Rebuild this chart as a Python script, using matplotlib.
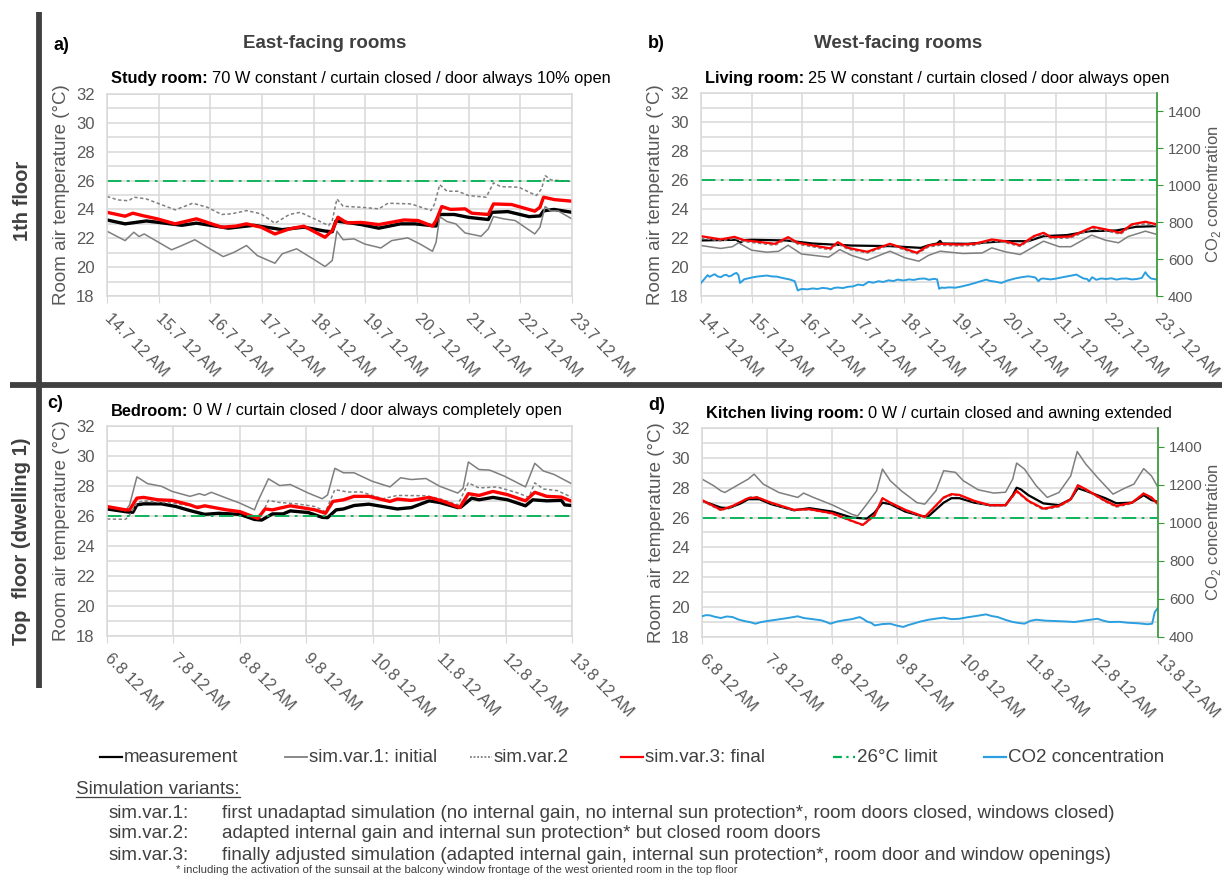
import numpy as np
import matplotlib
matplotlib.use("Agg")
import matplotlib.pyplot as plt
from matplotlib.lines import Line2D

plt.rcParams['font.family'] = ['Liberation Sans', 'DejaVu Sans']
plt.rcParams['mathtext.fontset'] = 'custom'
plt.rcParams['mathtext.rm'] = 'Liberation Sans'

# ---- time axes (days since first tick) ----
july_days = ['14.7', '15.7', '16.7', '17.7', '18.7', '19.7', '20.7', '21.7', '22.7', '23.7']
aug_days = ['6.8', '7.8', '8.8', '9.8', '10.8', '11.8', '12.8', '13.8']

# ---- a) study room, 1st floor, east ----
a_meas = [(0, 23.27), (0.35, 23.0), (0.76, 23.2), (1.0, 23.1), (1.45, 22.9), (1.73, 23.05),
          (2.0, 22.9), (2.35, 22.7), (2.84, 22.9), (3.39, 22.6), (3.81, 22.77), (4.22, 22.5),
          (4.36, 22.45), (4.43, 23.2), (4.64, 23.1), (4.92, 22.95), (5.26, 22.7), (5.68, 23.0),
          (5.96, 23.0), (6.37, 22.85), (6.44, 23.65), (6.72, 23.65), (7.0, 23.45), (7.38, 23.3),
          (7.45, 23.8), (7.76, 23.85), (8.17, 23.5), (8.38, 23.55), (8.45, 23.9), (8.65, 24.0),
          (9.0, 23.8)]
a_var1 = [(0, 22.49), (0.35, 21.84), (0.52, 22.42), (0.62, 22.12), (0.72, 22.3), (1.25, 21.2),
          (1.45, 21.5), (1.7, 21.9), (1.94, 21.38), (2.25, 20.73), (2.46, 21.03), (2.7, 21.5),
          (2.91, 20.8), (3.25, 20.27), (3.39, 20.92), (3.67, 21.27), (4.02, 20.5), (4.22, 20.04),
          (4.36, 20.46), (4.45, 22.49), (4.57, 21.9), (4.78, 21.96), (4.99, 21.6), (5.3, 21.33),
          (5.51, 21.84), (5.82, 22.03), (6.06, 21.6), (6.3, 21.1), (6.37, 21.73), (6.44, 23.5),
          (6.58, 23.16), (6.75, 23.0), (6.93, 22.37), (7.24, 22.14), (7.38, 22.65), (7.48, 23.5),
          (7.69, 23.34), (7.9, 23.23), (8.28, 22.3), (8.38, 22.77), (8.48, 24.2), (8.59, 23.9),
          (8.73, 23.9), (9.0, 23.34)]
a_var2 = [(0, 24.9), (0.21, 24.66), (0.42, 24.6), (0.52, 24.85), (0.76, 24.73), (1.32, 23.97),
          (1.66, 24.43), (1.94, 24.15), (2.22, 23.65), (2.42, 23.7), (2.7, 23.92), (2.98, 23.7),
          (3.25, 23.04), (3.53, 23.65), (3.74, 23.8), (4.02, 23.34), (4.29, 22.88), (4.36, 23.23),
          (4.45, 24.73), (4.57, 24.22), (4.92, 24.15), (5.26, 24.04), (5.44, 24.43), (5.89, 24.38),
          (6.27, 23.92), (6.34, 24.38), (6.44, 25.72), (6.58, 25.26), (6.79, 25.26), (7.0, 24.96),
          (7.34, 24.85), (7.48, 25.84), (7.62, 25.58), (7.97, 25.54), (8.31, 24.96), (8.41, 25.42),
          (8.48, 26.35), (8.59, 26.05), (9.0, 25.93)]
a_var3 = [(0, 23.8), (0.35, 23.53), (0.5, 23.74), (0.69, 23.57), (0.97, 23.35), (1.32, 23.0),
          (1.59, 23.23), (1.73, 23.35), (2.22, 22.77), (2.49, 22.84), (2.7, 23.0), (2.98, 22.77),
          (3.25, 22.3), (3.53, 22.65), (3.81, 22.84), (4.22, 22.07), (4.36, 22.54), (4.47, 23.46),
          (4.64, 23.07), (4.92, 23.1), (5.26, 22.95), (5.75, 23.27), (6.02, 23.23), (6.3, 22.84),
          (6.37, 23.23), (6.48, 24.2), (6.65, 24.0), (6.93, 24.04), (7.06, 23.74), (7.38, 23.65),
          (7.48, 24.38), (7.83, 24.34), (8.28, 23.88), (8.38, 24.15), (8.45, 24.85), (8.66, 24.68),
          (9.0, 24.57)]

# ---- b) living room, 1st floor, west ----
b_meas = [(0, 21.83), (0.7, 21.88), (0.77, 21.67), (0.85, 21.85), (1.0, 21.88), (1.68, 21.83),
          (2.21, 21.62), (2.97, 21.48), (3.73, 21.44), (4.34, 21.32), (4.49, 21.5), (4.66, 21.62),
          (4.72, 21.8), (4.76, 21.62), (5.25, 21.6), (6.0, 21.78), (6.46, 21.78), (6.76, 22.13),
          (7.22, 22.2), (7.67, 22.47), (8.2, 22.52), (8.58, 22.77), (9.0, 22.82)]
b_var1 = [(0, 21.48), (0.39, 21.28), (0.62, 21.4), (0.74, 21.67), (1.0, 21.16), (1.3, 21.02),
          (1.53, 21.08), (1.72, 21.5), (1.98, 20.9), (2.52, 20.68), (2.74, 21.2), (2.97, 20.8),
          (3.28, 20.47), (3.73, 21.09), (4.03, 20.63), (4.3, 20.4), (4.49, 20.8), (4.72, 21.09),
          (5.17, 20.93), (5.55, 20.97), (5.74, 21.32), (6.0, 21.05), (6.3, 20.86), (6.76, 21.78),
          (7.07, 21.4), (7.3, 21.4), (7.71, 22.2), (7.98, 21.85), (8.24, 21.67), (8.43, 22.1),
          (8.77, 22.47), (9.0, 22.24)]
b_var2 = [(0, 22.0), (0.39, 21.8), (0.66, 21.98), (0.85, 21.75), (1.46, 21.5), (1.72, 21.96),
          (1.91, 21.57), (2.55, 21.18), (2.7, 21.6), (2.9, 21.22), (3.28, 20.97), (3.73, 21.5),
          (4.26, 20.9), (4.49, 21.38), (4.72, 21.5), (5.09, 21.45), (5.4, 21.5), (5.74, 21.8),
          (6.0, 21.68), (6.3, 21.42), (6.57, 22.02), (6.76, 22.25), (6.91, 21.96), (7.29, 22.0),
          (7.74, 22.65), (7.98, 22.5), (8.28, 22.26), (8.5, 22.82), (8.77, 22.98), (9.0, 22.84)]
b_var3 = [(0, 22.13), (0.39, 21.9), (0.66, 22.08), (0.85, 21.85), (1.46, 21.6), (1.72, 22.06),
          (1.91, 21.67), (2.55, 21.28), (2.7, 21.71), (2.9, 21.32), (3.28, 21.05), (3.73, 21.6),
          (4.26, 20.98), (4.49, 21.48), (4.72, 21.6), (5.09, 21.55), (5.4, 21.6), (5.74, 21.9),
          (6.0, 21.78), (6.3, 21.5), (6.57, 22.13), (6.76, 22.36), (6.91, 22.06), (7.29, 22.1),
          (7.74, 22.77), (7.98, 22.6), (8.28, 22.36), (8.5, 22.94), (8.77, 23.12), (9.0, 22.94)]
b_co2 = [(0, 471), (0.06, 490), (0.13, 513), (0.17, 504), (0.2, 509), (0.27, 518), (0.33, 506),
         (0.39, 502), (0.45, 512), (0.5, 515), (0.55, 506), (0.6, 510), (0.65, 520), (0.7, 525),
         (0.74, 512), (0.77, 471), (0.81, 480), (0.85, 490), (0.92, 495), (1.0, 500), (1.1, 505),
         (1.2, 508), (1.3, 511), (1.4, 506), (1.5, 505), (1.6, 498), (1.76, 489), (1.85, 480),
         (1.91, 430), (1.96, 436), (2.0, 438), (2.1, 436), (2.2, 441), (2.3, 438), (2.4, 444),
         (2.5, 441), (2.56, 436), (2.63, 444), (2.7, 446), (2.8, 443), (2.9, 450), (3.0, 452),
         (3.1, 462), (3.2, 458), (3.31, 477), (3.4, 472), (3.5, 480), (3.6, 476), (3.7, 485),
         (3.8, 481), (3.88, 489), (4.0, 484), (4.1, 490), (4.2, 487), (4.3, 493), (4.41, 495),
         (4.5, 488), (4.6, 493), (4.66, 490), (4.7, 439), (4.75, 446), (4.8, 444), (4.9, 447),
         (5.02, 445), (5.15, 452), (5.3, 462), (5.45, 474), (5.63, 489), (5.7, 482), (5.8, 478),
         (5.93, 471), (6.05, 484), (6.2, 495), (6.33, 502), (6.46, 507), (6.55, 503), (6.6, 500),
         (6.66, 480), (6.7, 492), (6.75, 495), (6.9, 490), (7.0, 494), (7.07, 498), (7.2, 505),
         (7.3, 510), (7.41, 516), (7.48, 505), (7.55, 495), (7.62, 492), (7.66, 480), (7.72, 502),
         (7.8, 488), (7.9, 495), (8.0, 492), (8.1, 496), (8.2, 489), (8.3, 494), (8.4, 495),
         (8.5, 490), (8.6, 492), (8.7, 498), (8.77, 529), (8.82, 510), (8.88, 495), (9.0, 489)]

# ---- c) bedroom, top floor, east ----
c_meas = [(0, 26.47), (0.34, 26.25), (0.39, 26.25), (0.45, 26.74), (0.55, 26.81), (0.82, 26.81),
          (1.04, 26.63), (1.25, 26.36), (1.47, 26.11), (1.68, 26.18), (2.0, 26.11), (2.22, 25.77),
          (2.33, 25.73), (2.49, 26.14), (2.65, 26.14), (2.76, 26.34), (3.03, 26.23), (3.24, 25.91),
          (3.32, 25.89), (3.45, 26.41), (3.56, 26.47), (3.72, 26.7), (3.94, 26.79), (4.37, 26.47),
          (4.58, 26.56), (4.85, 27.01), (5.01, 26.9), (5.28, 26.56), (5.33, 26.6), (5.49, 27.19),
          (5.6, 27.08), (5.81, 27.24), (6.03, 27.08), (6.3, 26.68), (6.41, 27.08), (6.62, 27.01),
          (6.84, 27.04), (6.89, 26.74), (7.0, 26.7)]
c_var1 = [(0, 26.63), (0.28, 26.36), (0.34, 26.74), (0.45, 28.61), (0.61, 28.16), (0.82, 27.98),
          (0.98, 27.64), (1.25, 27.31), (1.39, 27.49), (1.47, 27.38), (1.57, 27.58), (1.8, 27.19),
          (2.0, 26.86), (2.22, 26.41), (2.27, 26.97), (2.43, 28.48), (2.6, 28.03), (2.76, 28.1),
          (3.03, 27.53), (3.24, 27.15), (3.32, 27.4), (3.43, 29.18), (3.56, 28.88), (3.72, 28.88),
          (3.99, 28.32), (4.26, 27.94), (4.42, 28.55), (4.58, 28.43), (4.8, 28.5), (5.01, 27.98),
          (5.28, 27.53), (5.36, 27.85), (5.44, 29.6), (5.6, 29.1), (5.76, 29.06), (5.98, 28.66),
          (6.3, 27.94), (6.44, 29.51), (6.57, 29.0), (6.73, 28.77), (7.0, 28.14)]
c_var2 = [(0, 25.8), (0.28, 25.78), (0.34, 26.07), (0.45, 26.86), (0.55, 27.01), (0.77, 26.92),
          (0.98, 26.86), (1.25, 26.68), (1.47, 26.63), (1.8, 26.41), (2.0, 26.25), (2.27, 25.84),
          (2.35, 26.29), (2.43, 27.04), (2.6, 26.9), (2.86, 26.81), (3.13, 26.63), (3.29, 26.29),
          (3.43, 27.76), (3.62, 27.6), (3.83, 27.6), (4.15, 27.15), (4.37, 27.37), (4.8, 27.35),
          (5.01, 27.15), (5.28, 26.74), (5.44, 28.21), (5.6, 27.87), (5.87, 27.94), (6.19, 27.53),
          (6.35, 27.24), (6.44, 28.21), (6.57, 27.8), (6.78, 27.69), (7.0, 27.24)]
c_var3 = [(0, 26.63), (0.28, 26.41), (0.34, 26.41), (0.45, 27.19), (0.55, 27.24), (0.77, 27.08),
          (0.98, 27.04), (1.25, 26.74), (1.36, 26.56), (1.47, 26.68), (1.8, 26.41), (2.0, 26.29),
          (2.27, 25.84), (2.38, 26.47), (2.49, 26.41), (2.76, 26.68), (3.13, 26.41), (3.29, 26.18),
          (3.4, 26.97), (3.56, 27.08), (3.72, 27.31), (3.94, 27.31), (4.26, 26.97), (4.37, 27.13),
          (4.58, 27.04), (4.85, 27.24), (5.07, 26.97), (5.31, 26.56), (5.44, 27.49), (5.6, 27.37),
          (5.81, 27.64), (6.03, 27.42), (6.3, 27.01), (6.44, 27.58), (6.62, 27.31), (6.84, 27.26),
          (7.0, 26.97)]

# ---- d) kitchen living room, top floor, west ----
d_meas = [(0, 27.12), (0.29, 26.67), (0.41, 26.63), (0.59, 26.94), (0.71, 27.23), (0.88, 27.23),
          (1.06, 26.9), (1.41, 26.49), (1.65, 26.63), (2.0, 26.4), (2.3, 26.0), (2.53, 25.93),
          (2.65, 26.34), (2.77, 27.0), (2.89, 26.9), (3.12, 26.4), (3.36, 26.11), (3.47, 26.07),
          (3.71, 27.0), (3.83, 27.3), (3.95, 27.3), (4.18, 27.0), (4.42, 26.83), (4.66, 26.83),
          (4.77, 27.5), (4.83, 28.0), (4.89, 27.9), (5.01, 27.5), (5.24, 26.95), (5.48, 26.83),
          (5.66, 27.23), (5.77, 27.97), (5.89, 27.79), (6.19, 27.3), (6.36, 26.96), (6.6, 27.0),
          (6.78, 27.5), (6.9, 27.17), (7.0, 27.05)]
d_var1 = [(0, 28.58), (0.18, 28.13), (0.29, 27.79), (0.35, 27.68), (0.53, 28.13), (0.71, 28.58),
          (0.8, 28.91), (0.94, 28.24), (1.18, 27.68), (1.47, 27.35), (1.56, 27.64), (1.71, 27.35),
          (2.0, 26.85), (2.3, 26.22), (2.39, 26.11), (2.53, 26.9), (2.68, 27.79), (2.77, 29.25),
          (2.89, 28.47), (3.06, 27.79), (3.3, 27.0), (3.42, 26.9), (3.59, 27.79), (3.71, 29.14),
          (3.89, 29.03), (4.01, 28.47), (4.24, 27.86), (4.48, 27.64), (4.66, 27.7), (4.77, 28.58),
          (4.83, 29.65), (4.95, 29.25), (5.13, 28.13), (5.3, 27.35), (5.48, 27.68), (5.66, 28.79),
          (5.76, 30.42), (5.89, 29.59), (6.07, 28.69), (6.31, 27.57), (6.48, 27.95), (6.63, 28.24),
          (6.78, 29.28), (6.9, 28.79), (7.0, 28.02)]
d_var2 = [(0, 27.1), (0.29, 26.47), (0.47, 26.72), (0.71, 27.36), (0.85, 27.4), (1.06, 26.95),
          (1.41, 26.47), (1.65, 26.52), (2.0, 26.24), (2.3, 25.74), (2.47, 25.47), (2.65, 26.1),
          (2.77, 27.25), (2.89, 26.95), (3.12, 26.47), (3.42, 26.0), (3.71, 27.3), (3.83, 27.5),
          (3.95, 27.47), (4.18, 27.06), (4.42, 26.78), (4.66, 26.78), (4.83, 27.72), (5.01, 27.06),
          (5.24, 26.52), (5.48, 26.72), (5.66, 27.16), (5.77, 28.1), (5.89, 27.84), (6.19, 27.06),
          (6.36, 26.7), (6.6, 26.94), (6.78, 27.66), (6.9, 27.3), (7.0, 26.84)]
d_var3 = [(0, 27.17), (0.29, 26.52), (0.47, 26.78), (0.71, 27.3), (0.85, 27.35), (1.06, 27.0),
          (1.41, 26.52), (1.65, 26.56), (2.0, 26.29), (2.3, 25.78), (2.47, 25.51), (2.65, 26.16),
          (2.77, 27.3), (2.89, 27.0), (3.12, 26.52), (3.42, 26.04), (3.71, 27.35), (3.83, 27.57),
          (3.95, 27.52), (4.18, 27.12), (4.42, 26.83), (4.66, 26.83), (4.83, 27.79), (5.01, 27.12),
          (5.24, 26.6), (5.48, 26.78), (5.66, 27.23), (5.77, 28.17), (5.89, 27.9), (6.19, 27.12),
          (6.36, 26.78), (6.6, 27.0), (6.78, 27.61), (6.9, 27.35), (7.0, 26.9)]
d_co2 = [(0, 509), (0.06, 515), (0.12, 514), (0.2, 506), (0.29, 500), (0.38, 508), (0.47, 505),
         (0.56, 492), (0.65, 484), (0.74, 478), (0.82, 470), (0.9, 478), (1.0, 484), (1.12, 490),
         (1.24, 496), (1.35, 502), (1.47, 509), (1.56, 500), (1.65, 496), (1.74, 492), (1.83, 488),
         (1.9, 480), (1.97, 470), (2.08, 482), (2.18, 488), (2.3, 494), (2.42, 505), (2.48, 494),
         (2.53, 482), (2.6, 474), (2.65, 461), (2.77, 468), (2.89, 470), (2.99, 460), (3.09, 453),
         (3.16, 462), (3.24, 470), (3.36, 482), (3.48, 491), (3.6, 497), (3.71, 502), (3.83, 494),
         (3.95, 496), (4.06, 503), (4.18, 509), (4.27, 514), (4.36, 519), (4.45, 510), (4.54, 505),
         (4.66, 490), (4.77, 479), (4.86, 474), (4.95, 470), (5.04, 485), (5.13, 491), (5.27, 486),
         (5.42, 484), (5.57, 482), (5.72, 479), (5.9, 488), (6.07, 496), (6.16, 486), (6.25, 479),
         (6.4, 480), (6.54, 475), (6.7, 472), (6.84, 467), (6.91, 470), (6.95, 531), (7.0, 554)]

limit_temp = 26

legend_labels = ['measurement', 'sim.var.1: initial', 'sim.var.2', 'sim.var.3: final',
                 '26°C limit', 'CO2 concentration']

W, H = 1224, 876
fig = plt.figure(figsize=(W / 100, H / 100), dpi=100)

TXT = '#595959'
DARK = '#404040'
GRID = '#d9d9d9'
C_MEAS = 'black'
C_VAR1 = '#7f7f7f'
C_VAR2 = '#7f7f7f'
C_VAR3 = '#ff0000'
C_LIM = '#00b050'
C_CO2 = '#2b9fe0'
C_AX2 = '#339933'
DASH_VAR2 = (0, (2.2, 1.6))
DASH_LIM = (0, (8, 3, 1.5, 3))


def fx(x):
    return x / W


def fy(y):
    return 1 - y / H


def draw_panel(box, dates, bold, rest, meas, var1, var2, var3, co2=None, thick=True):
    x0, y0, x1, y1 = box
    ax = fig.add_axes([fx(x0), fy(y1), fx(x1 - x0), (y1 - y0) / H])
    ndays = len(dates) - 1

    lw_main = 2.4 if thick else 1.6
    for data, kw in [(meas, dict(color=C_MEAS, lw=lw_main)),
                     (var1, dict(color=C_VAR1, lw=1.1)),
                     (var2, dict(color=C_VAR2, lw=1.1, linestyle=DASH_VAR2)),
                     (var3, dict(color=C_VAR3, lw=lw_main))]:
        t, v = np.array(data).T
        ax.plot(t, v, solid_joinstyle='round', **kw)
    ax.plot([0, ndays], [limit_temp, limit_temp], color=C_LIM, lw=1.3, linestyle=DASH_LIM)

    ax.set_xlim(0, ndays)
    ax.set_ylim(18, 32)
    ax.set_yticks(range(18, 33, 2))
    ax.set_yticks(range(19, 32, 2), minor=True)
    ax.grid(True, which='both', color=GRID, lw=1.1)
    ax.set_axisbelow(True)
    ax.set_xticks(range(ndays + 1))
    ax.set_xticklabels([d + ' 12 AM' for d in dates], rotation=-45, ha='left', va='center',
                       rotation_mode='anchor', fontsize=11.8, color=TXT)
    ax.tick_params(axis='x', length=5, color=GRID, pad=9)
    ax.tick_params(axis='y', which='both', length=0, labelsize=12, labelcolor=TXT, pad=9)
    for s in ax.spines.values():
        s.set_color(GRID)
        s.set_linewidth(1.1)
    ax.set_ylabel('Room air temperature (°C)', fontsize=13.5, color=TXT, labelpad=4)

    if co2 is not None:
        ax2 = ax.twinx()
        t, v = np.array(co2).T
        ax2.plot(t, v, color=C_CO2, lw=0.9 if thick else 1.4)
        ax2.set_ylim(400, 1500)
        ax2.set_yticks(range(400, 1401, 200))
        ax2.tick_params(axis='y', length=4, color=C_AX2, labelsize=10.8, labelcolor=TXT, pad=4)
        for s in ['left', 'top', 'bottom']:
            ax2.spines[s].set_visible(False)
        ax2.spines['right'].set_color(C_AX2)
        ax2.spines['right'].set_linewidth(1.2)
        ax2.set_ylabel('CO$_2$ concentration', fontsize=12, color=TXT)
        ax2.yaxis.set_label_coords((1204 - x0) / (x1 - x0), 0.5)

    # panel title: bold room name followed by the setup description
    tb = fig.text(fx(x0 + 4), fy(y0 - 15), bold, fontsize=11.8, weight='bold', va='center')
    ax.annotate(rest, xy=(1, 0.5), xycoords=tb, xytext=(3, 0), textcoords='offset points',
                fontsize=11.8, va='center', ha='left')
    return ax


draw_panel((107, 94, 572, 296), july_days, 'Study room:',
           '70 W constant / curtain closed / door always 10% open',
           a_meas, a_var1, a_var2, a_var3)
draw_panel((701, 93, 1157, 296), july_days, 'Living room:',
           '25 W constant / curtain closed / door always open',
           b_meas, b_var1, b_var2, b_var3, co2=b_co2, thick=False)
draw_panel((107, 426, 572, 636), aug_days, 'Bedroom:',
           '0 W / curtain closed / door always completely open',
           c_meas, c_var1, c_var2, c_var3)
draw_panel((702, 428, 1158, 637), aug_days, 'Kitchen living room:',
           '0 W / curtain closed and awning extended',
           d_meas, d_var1, d_var2, d_var3, co2=d_co2, thick=False)

# ---- frame bars and group labels ----
fig.add_artist(Line2D([fx(39), fx(39)], [fy(12), fy(688)], color=DARK, lw=4.2,
                      solid_capstyle='butt'))
fig.add_artist(Line2D([fx(10), fx(1222)], [fy(385.5), fy(385.5)], color=DARK, lw=4.2,
                      solid_capstyle='butt'))
fig.text(fx(22), fy(201), '1th floor', rotation=90, fontsize=14.5, weight='bold', color=DARK,
         ha='center', va='center')
fig.text(fx(22), fy(541), 'Top  floor (dwelling 1)', rotation=90, fontsize=14.5, weight='bold',
         color=DARK, ha='center', va='center')
fig.text(fx(325), fy(43), 'East-facing rooms', fontsize=13.5, weight='bold', color=DARK,
         ha='center', va='center')
fig.text(fx(898), fy(43), 'West-facing rooms', fontsize=13.5, weight='bold', color=DARK,
         ha='center', va='center')
for lab, (x, y) in zip(['a)', 'b)', 'c)', 'd)'], [(53, 45), (648, 43), (47, 403), (648, 406)]):
    fig.text(fx(x), fy(y), lab, fontsize=13, weight='bold', ha='left', va='center')

# ---- legend row ----
leg_styles = [dict(color=C_MEAS, lw=1.6), dict(color=C_VAR1, lw=1.3),
              dict(color=C_VAR2, lw=1.3, linestyle=(0, (1, 1))), dict(color=C_VAR3, lw=1.6),
              dict(color=C_LIM, lw=1.6, linestyle=(0, (4, 2, 1, 2))), dict(color=C_CO2, lw=1.6)]
leg_x = [100, 285, 470, 621, 833, 984]
leg_y = 757
for x, lab, st in zip(leg_x, legend_labels, leg_styles):
    fig.add_artist(Line2D([fx(x), fx(x + 22)], [fy(leg_y), fy(leg_y)], **st))
    fig.text(fx(x + 24), fy(leg_y), lab, fontsize=13.5, color=DARK, ha='left', va='center')

# ---- simulation variant notes ----
sv = fig.text(fx(76), fy(789), 'Simulation variants:', fontsize=13.5, color=DARK, ha='left',
              va='center')
renderer = fig.canvas.get_renderer()
bb = sv.get_window_extent(renderer)
fig.add_artist(Line2D([bb.x0 / W, bb.x1 / W], [(bb.y0 + 1) / H, (bb.y0 + 1) / H],
                      color=DARK, lw=0.9))
notes = [('sim.var.1:', 'first unadaptad simulation (no internal gain, no internal sun protection*, '
                        'room doors closed, windows closed)'),
         ('sim.var.2:', 'adapted internal gain and internal sun protection* but closed room doors'),
         ('sim.var.3:', 'finally adjusted simulation (adapted internal gain, internal sun protection*, '
                        'room door and window openings)')]
for (k, txt), y in zip(notes, [813, 834, 855]):
    fig.text(fx(109), fy(y), k, fontsize=13.5, color=DARK, ha='left', va='center')
    fig.text(fx(222), fy(y), txt, fontsize=13.5, color=DARK, ha='left', va='center')
fig.text(fx(176), fy(870), '* including the activation of the sunsail at the balcony window '
         'frontage of the west oriented room in the top floor', fontsize=8.2, color=DARK,
         ha='left', va='center')

fig.savefig('out.png', dpi=100)
